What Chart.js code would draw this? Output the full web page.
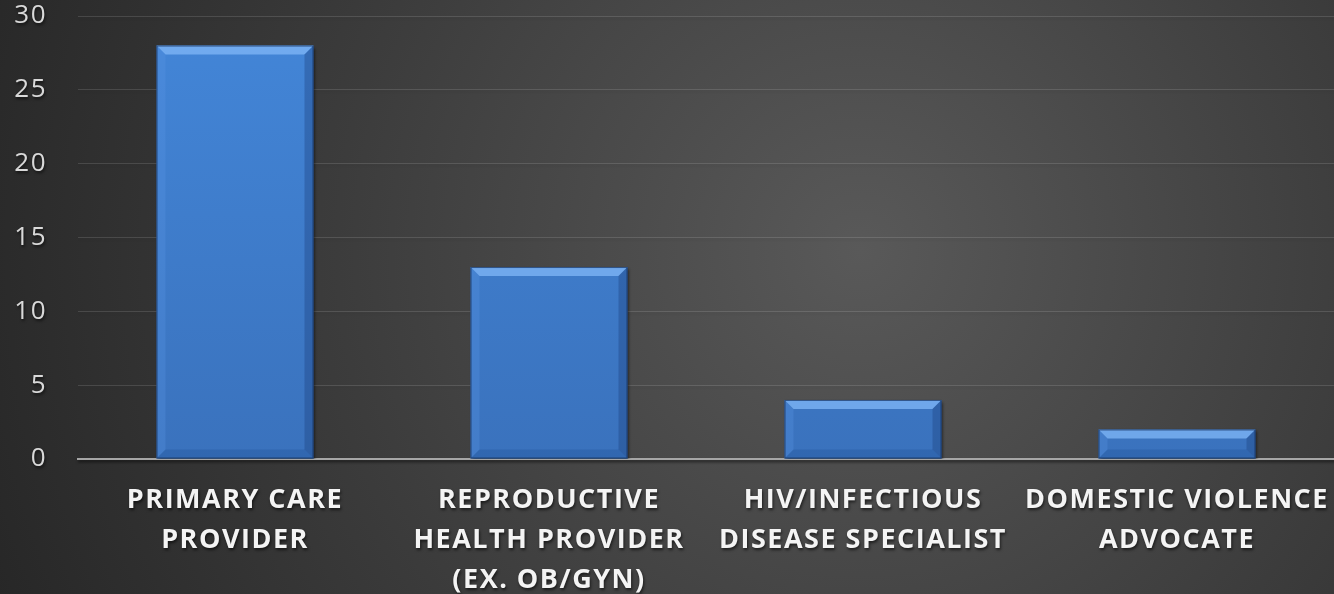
<!DOCTYPE html>
<html>
<head>
<meta charset="utf-8">
<script src="https://cdn.jsdelivr.net/npm/chart.js@4"></script>
<style>
  html, body { margin: 0; padding: 0; background: #333; }
  #wrap { width: 1334px; height: 594px; }
</style>
</head>
<body>
<div id="wrap"><canvas id="myChart"></canvas></div>
<script>
'use strict';

const categories = [
	['PRIMARY CARE', 'PROVIDER'],
	['REPRODUCTIVE', 'HEALTH PROVIDER', '(EX. OB/GYN)'],
	['HIV/INFECTIOUS', 'DISEASE SPECIALIST'],
	['DOMESTIC VIOLENCE', 'ADVOCATE']
];
const values = [28, 13, 4, 2];
const yTicks = [0, 5, 10, 15, 20, 25, 30];

// fondo radial oscuro + espaciado de letras + sombra del texto
const fondo = {
	id: 'fondo',
	beforeUpdate(chart) {
		chart.ctx.letterSpacing = '1.5px';
	},
	beforeDraw(chart) {
		const c = chart.ctx;
		c.letterSpacing = '1.5px';
		const g = c.createRadialGradient(860, 250, 0, 860, 250, 950);
		g.addColorStop(0, '#595959');
		g.addColorStop(0.55, '#3c3c3c');
		g.addColorStop(1, '#262626');
		c.save();
		c.fillStyle = g;
		c.fillRect(0, 0, chart.width, chart.height);
		c.restore();
		c.shadowColor = 'rgba(0,0,0,0.6)';
		c.shadowBlur = 3;
		c.shadowOffsetX = 1;
		c.shadowOffsetY = 2;
	}
};

// biselado de las barras
const bisel = {
	id: 'bisel',
	afterDatasetsDraw(chart) {
		const c = chart.ctx;
		chart.getDatasetMeta(0).data.forEach(bar => {
			const l = bar.x - bar.width / 2, r = bar.x + bar.width / 2;
			const t = bar.y, b = bar.base;
			const d = Math.min(9, (b - t) / 2);
			const poly = (pts, color) => {
				c.beginPath();
				c.moveTo(pts[0][0], pts[0][1]);
				pts.slice(1).forEach(p => c.lineTo(p[0], p[1]));
				c.closePath();
				c.fillStyle = color;
				c.fill();
			};
			c.save();
			c.shadowColor = 'rgba(0,0,0,0)';
			poly([[l, t], [r, t], [r - d, t + d], [l + d, t + d]], 'rgba(125,180,245,0.8)');
			poly([[l, t], [l + d, t + d], [l + d, b - d], [l, b]], 'rgba(90,150,230,0.3)');
			poly([[r, t], [r - d, t + d], [r - d, b - d], [r, b]], 'rgba(25,60,120,0.35)');
			poly([[l, b], [l + d, b - d], [r - d, b - d], [r, b]], 'rgba(25,70,140,0.25)');
			c.strokeStyle = 'rgba(20,45,90,0.7)';
			c.lineWidth = 1;
			c.strokeRect(l + 0.5, t + 0.5, r - l - 1, b - t - 1);
			c.restore();
		});
	}
};

new Chart(document.getElementById('myChart'), {
	type: 'bar',
	data: {
		labels: categories,
		datasets: [{
			data: values,
			backgroundColor: (context) => {
				const area = context.chart.chartArea;
				if (!area) return '#3f7fd0';
				const g = context.chart.ctx.createLinearGradient(0, area.top, 0, area.bottom);
				g.addColorStop(0, '#4386d8');
				g.addColorStop(1, '#3a72bd');
				return g;
			},
			borderWidth: 0,
			categoryPercentage: 1,
			barPercentage: 0.5
		}]
	},
	options: {
		responsive: true,
		maintainAspectRatio: false,
		animation: false,
		layout: { padding: { left: 0, right: 0, top: 16, bottom: 0 } },
		plugins: {
			legend: { display: false },
			tooltip: { enabled: false }
		},
		scales: {
			x: {
				afterFit: (scale) => {
					scale.height = 135;
					scale.paddingLeft = 0;
					scale.paddingRight = 0;
				},
				grid: { display: false, drawTicks: false },
				border: { display: true, color: '#a6a6a6', width: 2 },
				ticks: {
					color: '#f4f4f4',
					font: { family: 'Open Sans', size: 27, weight: 'bold', lineHeight: '40px' },
					padding: 21,
					maxRotation: 0,
					autoSkip: false
				}
			},
			y: {
				min: 0,
				max: 30,
				afterFit: (scale) => {
					scale.width = 78;
					scale.paddingTop = 0;
					scale.paddingBottom = 0;
				},
				afterBuildTicks: (scale) => { scale.ticks = yTicks.map(v => ({ value: v })); },
				grid: { color: 'rgba(255,255,255,0.13)', drawTicks: false },
				border: { display: false },
				ticks: {
					color: '#d9d9d9',
					font: { family: 'Open Sans', size: 26 },
					padding: 31
				}
			}
		}
	},
	plugins: [fondo, bisel]
});
</script>
</body>
</html>
